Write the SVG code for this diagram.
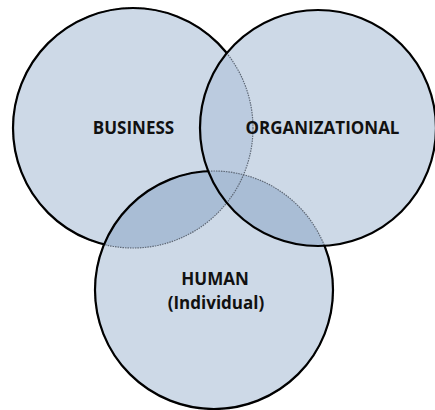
<svg xmlns="http://www.w3.org/2000/svg" width="435" height="410" viewBox="0 0 435 410">
  <style>
    .base { fill: #cdd9e7; stroke: none; }
    .bo { fill: #bbcbdf; stroke: none; }
    .xh { fill: #a9bdd5; stroke: none; }
    .inner { fill: none; stroke: #5f6977; stroke-width: 1.2; stroke-dasharray: 1.5 1; }
    .outer { fill: none; stroke: #000; stroke-width: 2.2; }
    .lbl { font-family: "Open Sans", "DejaVu Sans", sans-serif; font-weight: 700; font-size: 17px; fill: #111; text-anchor: middle; }
  </style>
  <defs>
    <clipPath id="clipB"><circle cx="133" cy="128" r="120"/></clipPath>
    <clipPath id="clipO"><circle cx="318" cy="128" r="118"/></clipPath>
    <mask id="maskB" maskUnits="userSpaceOnUse" x="0" y="0" width="435" height="410">
      <rect x="0" y="0" width="435" height="410" fill="#fff"/>
      <circle cx="318" cy="128" r="118" fill="#000"/>
      <circle cx="214" cy="290" r="119" fill="#000"/>
    </mask>
    <mask id="maskH" maskUnits="userSpaceOnUse" x="0" y="0" width="435" height="410">
      <rect x="0" y="0" width="435" height="410" fill="#fff"/>
      <circle cx="318" cy="128" r="118" fill="#000"/>
    </mask>
  </defs>
  <rect x="0" y="0" width="435" height="410" fill="#fff"/>
  <g id="fills">
    <circle class="base" cx="133" cy="128" r="120"/>
    <circle class="base" cx="318" cy="128" r="118"/>
    <circle class="base" cx="214" cy="290" r="119"/>
    <circle class="bo" cx="318" cy="128" r="118" clip-path="url(#clipB)"/>
    <circle class="xh" cx="214" cy="290" r="119" clip-path="url(#clipB)"/>
    <circle class="xh" cx="214" cy="290" r="119" clip-path="url(#clipO)"/>
  </g>
  <g id="connectors">
    <circle class="inner" cx="133" cy="128" r="120"/>
    <circle class="inner" cx="214" cy="290" r="119"/>
  </g>
  <g id="business">
    <circle class="outer" cx="133" cy="128" r="120" mask="url(#maskB)"/>
    <text class="lbl" x="133.5" y="134">BUSINESS</text>
  </g>
  <g id="human">
    <circle class="outer" cx="214" cy="290" r="119" mask="url(#maskH)"/>
    <text class="lbl" x="215" y="285">HUMAN</text>
    <text class="lbl" x="216" y="309">(Individual)</text>
  </g>
  <g id="organizational">
    <circle class="outer" cx="318" cy="128" r="118"/>
    <text class="lbl" x="322.5" y="134">ORGANIZATIONAL</text>
  </g>
</svg>
